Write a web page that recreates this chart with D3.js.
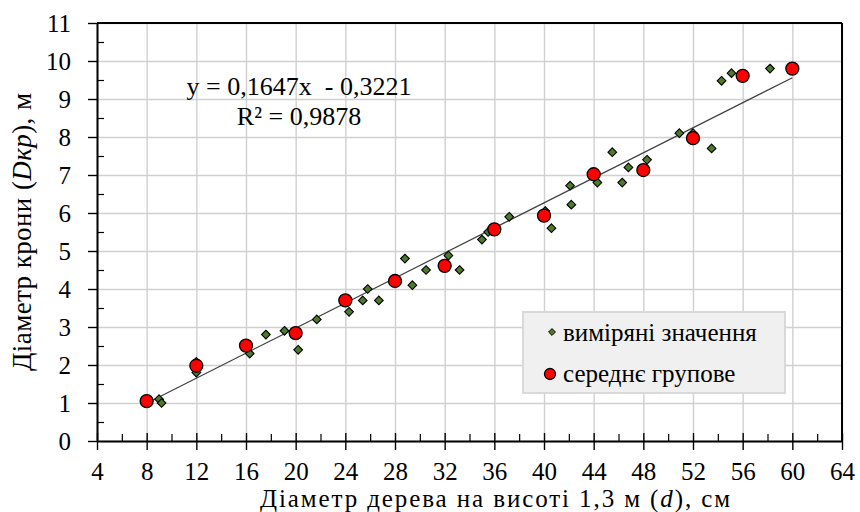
<html>
<head>
<script src="https://d3js.org/d3.v7.min.js"></script>
<style>
  body { margin: 0; background: #fff; }
</style>
</head>
<body>
<svg id="chart" width="860" height="512"></svg>
<script>
// виміряні значення (d, Dкр)
const measuredX = [9.0, 9.2, 12, 12, 12, 16.3, 17.6, 19.1, 20.2, 21.7, 24.3, 25.4, 25.8, 26.7,
  28.8, 29.4, 30.5, 32.3, 33.2, 35.0, 35.5, 37.2, 40.1, 40.6, 42.1, 42.2, 44.3, 45.5, 46.3,
  46.8, 48.3, 50.9, 52.0, 53.5, 54.3, 55.1, 58.2]
const measuredY = [1.1, 1.0, 2.08, 2.0, 1.8, 2.3, 2.8, 2.9, 2.4, 3.2, 3.4, 3.7, 4.0, 3.7,
  4.8, 4.1, 4.5, 4.88, 4.5, 5.3, 5.5, 5.9, 6.05, 5.6, 6.72, 6.22, 6.8, 7.6, 6.8,
  7.2, 7.4, 8.1, 8.1, 7.7, 9.48, 9.68, 9.8]
// середнє групове
const groupX = [8, 12, 16, 20, 24, 28, 32, 36, 40, 44, 48, 52, 56, 60]
const groupY = [1.05, 1.98, 2.51, 2.84, 3.70, 4.21, 4.61, 5.57, 5.93, 7.02, 7.13, 7.97, 9.61, 9.80]
// trend line
const slope = 0.1647, intercept = -0.3221
const xTicks = d3.range(4, 65, 4)
const yTicks = d3.range(0, 12, 1)

const FONT = 'Liberation Serif'
const svg = d3.select('svg#chart')
const margins = {top: 23, left: 97, right: 18, bottom: 71}
const width = 860, height = 512
const chartWidth = width - margins.left - margins.right
const chartHeight = height - margins.top - margins.bottom

const xScale = d3.scaleLinear().domain([4, 64]).range([0, chartWidth])
const yScale = d3.scaleLinear().domain([0, 11]).range([chartHeight, 0])

const chart = svg.append('g').attr('transform', `translate(${margins.left},${margins.top})`)

// gridlines
chart.append('g')
  .call(d3.axisBottom(xScale).tickValues(xTicks).tickSize(chartHeight).tickFormat(''))
  .call(g => g.select('.domain').remove())
  .selectAll('line').attr('stroke', '#d0d0d0').attr('stroke-width', 1.4)
chart.append('g')
  .call(d3.axisLeft(yScale).tickValues(yTicks).tickSize(-chartWidth).tickFormat(''))
  .call(g => g.select('.domain').remove())
  .selectAll('line').attr('stroke', '#d0d0d0').attr('stroke-width', 1.4)

// border top/right
chart.append('line').attr('x1', 0).attr('x2', chartWidth).attr('y1', 0).attr('y2', 0)
  .attr('stroke', '#000').attr('stroke-width', 2)
chart.append('line').attr('x1', chartWidth).attr('x2', chartWidth).attr('y1', 0).attr('y2', chartHeight)
  .attr('stroke', '#000').attr('stroke-width', 2)

// minor ticks inside
chart.append('g')
  .attr('transform', `translate(0,${chartHeight})`)
  .call(d3.axisBottom(xScale).tickValues(d3.range(6, 64, 4)).tickSize(-7).tickFormat(''))
  .call(g => g.select('.domain').remove())
  .selectAll('line').attr('stroke', '#000').attr('stroke-width', 1.2)
chart.append('g')
  .call(d3.axisLeft(yScale).tickValues(d3.range(0.5, 11, 1)).tickSize(-7).tickFormat(''))
  .call(g => g.select('.domain').remove())
  .selectAll('line').attr('stroke', '#000').attr('stroke-width', 1.2)

// major ticks, inside part
chart.append('g')
  .attr('transform', `translate(0,${chartHeight})`)
  .call(d3.axisBottom(xScale).tickValues(xTicks).tickSize(-8).tickFormat(''))
  .call(g => g.select('.domain').remove())
  .selectAll('line').attr('stroke', '#000').attr('stroke-width', 1.4)

// axes with labels
const xAxis = chart.append('g')
  .attr('transform', `translate(0,${chartHeight})`)
  .call(d3.axisBottom(xScale).tickValues(xTicks).tickSize(9).tickPadding(12).tickSizeOuter(0))
xAxis.select('.domain').attr('stroke', '#000').attr('stroke-width', 2)
xAxis.selectAll('line').attr('stroke', '#000').attr('stroke-width', 1.4)
xAxis.selectAll('text').attr('font-size', 25).attr('font-family', FONT).attr('fill', '#000')

const yAxis = chart.append('g')
  .call(d3.axisLeft(yScale).tickValues(yTicks).tickSize(9).tickPadding(17).tickSizeOuter(0))
yAxis.select('.domain').attr('stroke', '#000').attr('stroke-width', 2)
yAxis.selectAll('line').attr('stroke', '#000').attr('stroke-width', 1.4)
yAxis.selectAll('text').attr('font-size', 25).attr('font-family', FONT).attr('fill', '#000')

// trend line
chart.append('line')
  .attr('x1', xScale(8)).attr('y1', yScale(slope * 8 + intercept))
  .attr('x2', xScale(60)).attr('y2', yScale(slope * 60 + intercept))
  .attr('stroke', '#404040').attr('stroke-width', 1.2)

// measured points
const diamond = d3.symbol().type(d3.symbolDiamond2)
chart.selectAll('path.measured').data(measuredX.map((x, i) => [x, measuredY[i]]))
  .join('path')
  .attr('class', 'measured')
  .attr('d', diamond.size(48))
  .attr('transform', d => `translate(${xScale(d[0])},${yScale(d[1])})`)
  .attr('fill', '#4e7a2c').attr('stroke', '#000').attr('stroke-width', 1.1)

// group means
chart.selectAll('circle.group').data(groupX.map((x, i) => [x, groupY[i]]))
  .join('circle')
  .attr('class', 'group')
  .attr('r', 6.5)
  .attr('cx', d => xScale(d[0]))
  .attr('cy', d => yScale(d[1]))
  .attr('fill', '#ff0000').attr('stroke', '#000').attr('stroke-width', 1.3)

// equation
chart.append('text').attr('x', 202).attr('y', 72).attr('text-anchor', 'middle')
  .attr('font-size', 26).attr('font-family', FONT).text('y = 0,1647x\u00a0 - 0,3221')
chart.append('text').attr('x', 202).attr('y', 102).attr('text-anchor', 'middle')
  .attr('font-size', 26).attr('font-family', FONT).text('R\u00b2 = 0,9878')

// legend
const legend = chart.append('g').attr('transform', `translate(${426},${289})`)
legend.append('rect').attr('width', 262).attr('height', 81)
  .attr('fill', '#f0f0f0').attr('stroke', '#d9d9d9').attr('stroke-width', 2)
legend.append('path').attr('d', diamond.size(30)).attr('transform', 'translate(29,20)')
  .attr('fill', '#4e7a2c').attr('stroke', '#000').attr('stroke-width', 1)
legend.append('text').attr('x', 40).attr('y', 29).attr('font-size', 25).attr('font-family', FONT)
  .text('виміряні значення')
legend.append('circle').attr('cx', 27).attr('cy', 62).attr('r', 5.5)
  .attr('fill', '#ff0000').attr('stroke', '#000').attr('stroke-width', 1.3)
legend.append('text').attr('x', 40).attr('y', 70).attr('font-size', 25).attr('font-family', FONT)
  .text('середнє групове')

// axis titles
const xt = svg.append('text').attr('x', 495).attr('y', 507).attr('text-anchor', 'middle')
  .attr('font-size', 25).attr('font-family', FONT).attr('textLength', 470)
xt.append('tspan').text('Діаметр дерева на висоті 1,3 м (')
xt.append('tspan').attr('font-style', 'italic').text('d')
xt.append('tspan').text('), см')

const yt = svg.append('text')
  .attr('transform', `translate(31,${margins.top + chartHeight / 2}) rotate(-90)`)
  .attr('text-anchor', 'middle').attr('font-size', 27).attr('font-family', FONT)
  .attr('textLength', 278)
yt.append('tspan').text('Діаметр крони (')
yt.append('tspan').attr('font-style', 'italic').text('Dкр')
yt.append('tspan').text('), м')
</script>
</body>
</html>
